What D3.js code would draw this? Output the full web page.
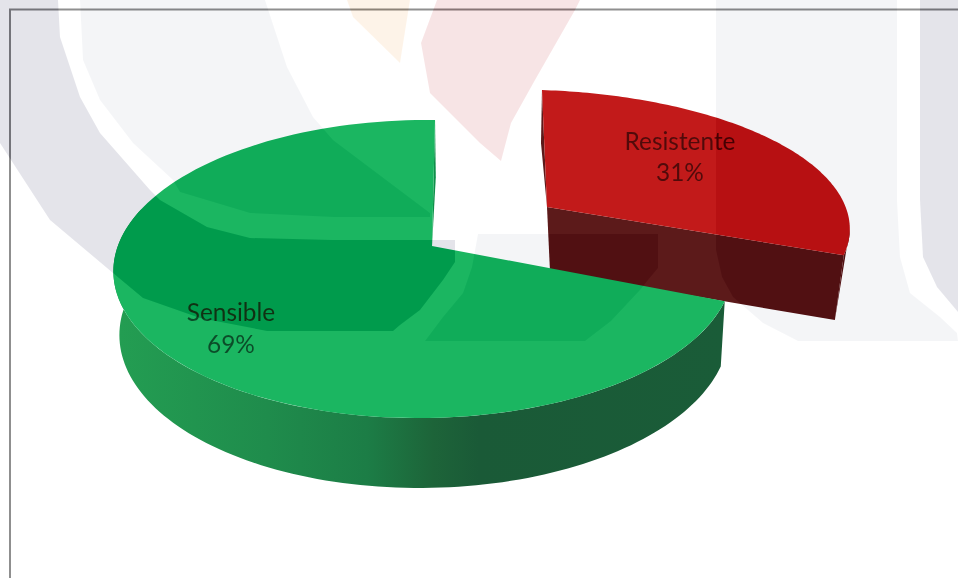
<!DOCTYPE html>
<html>
<head>
<meta charset="utf-8">
<script src="https://cdn.jsdelivr.net/npm/d3@7"></script>
<style>
  html, body { margin: 0; padding: 0; background: #fff; }
  svg { display: block; }
  text { font-family: Lato, "Open Sans", sans-serif; font-size: 24.4px; text-anchor: middle; fill: #000; fill-opacity: .58; }
</style>
</head>
<body>
<svg id="chart" width="958" height="578"></svg>
<script>
// Pie values
const categories = ["Resistente", "Sensible"];
const percentages = [31, 69];

const svg = d3.select("#chart");
svg.append("rect").attr("width", 958).attr("height", 578).attr("fill", "#fff");

// Outer frame of the chart area
svg.append("rect")
  .attr("x", 10).attr("y", 9.5).attr("width", 990).attr("height", 620)
  .attr("fill", "none").attr("stroke", "#8f8f8f").attr("stroke-width", 2);

// Slice angles: clockwise from twelve o'clock
const slices = d3.pie().sort(null).value(d => d)(percentages);
const deg = Math.PI / 180;

// Perspective projection of the unit disc at a given angle
function disc({ox, oy, b, a, s, k, m}) {
  return t => {
    const u = Math.sin(t), v = -Math.cos(t);
    const w = 1 - k * v + m * u;
    return [ox + (b * u + s * v) / w, oy + a * v / w];
  };
}
const greenTop = disc({ox: 432, oy: 246, b: 306, a: 145.5, s: -3.5, k: .154, m: .026});
const redTop = disc({ox: 547, oy: 207, b: 327, a: 135, s: 5.8, k: .154, m: .095});

// Rim of the lower face, derived from a point of the upper face
const greenLow = ([x, y]) => [x * .9836 + 7.9, 246 + (y - 246) * 1.042 + 62.7];
const redLow = ([x, y]) => [x + 3 - .046 * (x - 547) + .036 * (y - 207), y + 61.5 + (y - 207) * .07];

const line = d3.line();
const sweep = (f, a0, a1) => d3.range(0, 121).map(i => f(a0 + (a1 - a0) * i / 120));
const closed = pts => line(pts) + "Z";

const red = slices[0], green = slices[1];

// Shaded wall gradient across the green slice
const grad = svg.append("defs").append("linearGradient")
  .attr("id", "greenWall").attr("gradientUnits", "userSpaceOnUse")
  .attr("x1", 120).attr("x2", 726).attr("y1", 0).attr("y2", 0);
[[0, "#239d52"], [.243, "#1f8c4c"], [.408, "#1c7d46"], [.517, "#1d6439"], [.592, "#1a5a37"], [1, "#1a5c38"]]
  .forEach(([o, c]) => grad.append("stop").attr("offset", o).attr("stop-color", c));

// Exploded red slice: outer wall, cut faces, then the top
const rApex = [547, 207];
const rEnd = redTop(red.endAngle);
svg.append("path")
  .attr("d", closed([...sweep(redTop, 100 * deg, red.endAngle), redLow(rEnd)]))
  .attr("fill", "#5c1a1a");
svg.append("path")
  .attr("d", closed([redTop(0), redLow(redTop(0)), rApex]))
  .attr("fill", "#5c1a1a");
// The inner corner of this face runs under the green slice
const rApexLow = redLow(rApex);
svg.append("path")
  .attr("d", closed([rApex, rEnd, redLow(rEnd), [rApexLow[0], rApexLow[1] + 3]]))
  .attr("fill", "#5c1a1a");
svg.append("path")
  .attr("d", closed([rApex, ...sweep(redTop, red.startAngle, red.endAngle)]))
  .attr("fill", "#c21a1a");

// Green slice, in front of the red one
const gRimTop = sweep(greenTop, green.startAngle, 285 * deg);
svg.append("path")
  .attr("d", closed([...gRimTop, ...gRimTop.map(greenLow).reverse()]))
  .attr("fill", "url(#greenWall)");
const gFull = sweep(greenTop, green.startAngle, green.endAngle);
svg.append("path")
  .attr("d", closed([greenTop(green.endAngle), greenLow(greenTop(green.endAngle)), [432, 246]]))
  .attr("fill", "#0f8f4a");
svg.append("path")
  .attr("d", closed([[432, 246], ...gFull]))
  .attr("fill", "#1bb661");

// Slice labels
const labelSpots = [[680, 150, 181], [231, 321, 353]];
categories.forEach((c, i) => {
  const [x, y1, y2] = labelSpots[i];
  svg.append("text").attr("x", x).attr("y", y1).text(c);
  svg.append("text").attr("x", x).attr("y", y2).text(percentages[i] + "%");
});

// Pale emblem laid across the page; "difference" with a small colour subtracts it from what lies below
const emblem = [
  {fill: "rgb(27,27,21)", pts: [[0,143],[50,220],[113,273],[143,298],[200,318],[267,331],[393,331],[400,325],[420,310],[443,280],[455,262],[455,240],[333,240],[250,238],[207,227],[160,200],[150,190],[100,133],[80,97],[60,37],[58,0],[0,0]]},
  {fill: "rgb(27,27,21)", pts: [[920,0],[958,0],[958,312],[937,287],[923,257],[920,200]]},
  {fill: "rgb(11,10,8)", pts: [[80,0],[83,60],[100,100],[133,143],[173,180],[180,192],[250,213],[333,217],[430,217],[430,213],[333,140],[313,117],[287,67],[265,0]]},
  {fill: "rgb(11,10,8)", pts: [[716,0],[897,0],[897,200],[900,257],[910,293],[940,317],[957,333],[958,341],[798,341],[763,323],[733,297],[722,277],[716,250]]},
  {fill: "rgb(11,10,8)", pts: [[478,234],[658,234],[658,268],[648,280],[640,290],[611,321],[585,341],[425,341],[443,317],[463,293],[472,267]]},
  {fill: "rgb(2,12,23)", pts: [[347,0],[410,0],[400,63],[353,17]]},
  {fill: "rgb(8,27,26)", pts: [[437,0],[580,0],[575,10],[535,80],[511,123],[501,161],[480,143],[430,93],[421,43]]}
];
svg.selectAll("path.emblem").data(emblem).join("path")
  .attr("class", "emblem")
  .attr("d", d => closed(d.pts))
  .attr("fill", d => d.fill)
  .style("mix-blend-mode", "difference");
</script>
</body>
</html>
